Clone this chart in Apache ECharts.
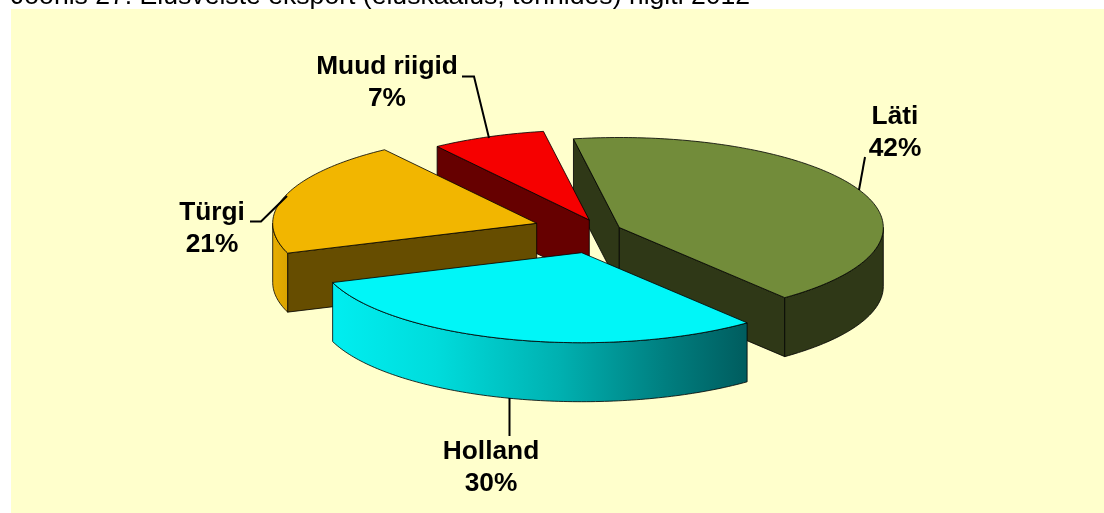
<!DOCTYPE html>
<html><head><meta charset="utf-8">
<style>html,body{margin:0;padding:0;background:#fff;overflow:hidden}#c{width:1104px;height:513px}</style>
<script src="https://cdn.jsdelivr.net/npm/echarts@6/dist/echarts.min.js"></script>
</head><body><div id="c"></div>
<script>
const titleText = 'Joonis 27. Elusveiste eksport (eluskaalus, tonnides) riigiti 2012';
const categories = ['Läti', 'Holland', 'Türgi', 'Muud riigid'];
const shares = [42, 30.4, 20.6, 7];   // labels show them rounded

// Layout and styling of the exploded, tilted pie (not data)
const startAngle = -10;           // degrees clockwise from the top of the ellipse
const radiusX = 264, radiusY = 90, depth = 59;
const pieCentre = [579, 236];
const explode = [[40.3, -8.5], [2.7, 16.7], [-42.3, -12.7], [10.3, -16]];
const layerOrder = [1, 4, 3, 2];
const topColours = ['#728c3a', '#00f6f8', '#f2b600', '#f60000'];
const faceColours = ['#2f3817', '#00f6f8', '#664d00', '#660000'];
const wallFills = [
  () => '#2f3817',
  () => new echarts.graphic.LinearGradient(0, 0, 1, 0, [
    {offset: 0, color: '#00eef0'}, {offset: 0.25, color: '#00dcdc'},
    {offset: 0.55, color: '#00b0b0'}, {offset: 0.8, color: '#007f80'}, {offset: 1, color: '#005c5e'}]),
  () => new echarts.graphic.LinearGradient(0, 0, 1, 0, [
    {offset: 0, color: '#e8ae00'}, {offset: 1, color: '#d9a300'}]),
  () => '#660000'
];
const labelCentres = [[895, 133], [491, 468], [212, 229], [387, 83]];
const leaders = [
  [[865, 157], [859, 190]],
  [[509.5, 398], [509.5, 436]],
  [[250, 221.5], [261, 221.5], [287, 196]],
  [[462, 76.5], [474, 76.5], [489, 138]]
];
const lineColour = 'rgba(0,0,0,0.8)';

const total = shares.reduce((a, b) => a + b, 0);
const rad = d => d * Math.PI / 180;
function rimPoint(apex, angle, drop) {
  return [apex[0] + radiusX * Math.sin(rad(angle)),
          apex[1] - radiusY * Math.cos(rad(angle)) + drop];
}
function arc(apex, from, to, drop) {
  const pts = [], n = Math.max(2, Math.ceil(Math.abs(to - from)));
  for (let i = 0; i <= n; i++) pts.push(rimPoint(apex, from + (to - from) * i / n, drop));
  return pts;
}
function face(a, b, fill, z) {
  return {type: 'polygon', z2: z, silent: true,
    shape: {points: [a, b, [b[0], b[1] + depth], [a[0], a[1] + depth]]},
    style: {fill, stroke: lineColour, lineWidth: 1}};
}

function renderSlice(params, api) {
  const i = params.dataIndex;
  const value = api.value(1);
  const before = shares.slice(0, i).reduce((a, b) => a + b, 0);
  const from = startAngle + before / total * 360;
  const to = from + value / total * 360;
  const apex = [pieCentre[0] + explode[i][0], pieCentre[1] + explode[i][1]];
  const base = layerOrder[i] * 10;
  const kids = [];

  // leader line and label
  kids.push({type: 'polyline', z2: base + 5, silent: true,
    shape: {points: leaders[i]}, style: {fill: 'none', stroke: '#000', lineWidth: 2}});
  kids.push({type: 'text', z2: 100, silent: true,
    style: {x: labelCentres[i][0], y: labelCentres[i][1],
      text: categories[i] + '\n' + Math.round(value) + '%',
      align: 'center', verticalAlign: 'middle', lineHeight: 32,
      font: 'bold 26.3px "Liberation Sans", Arial, sans-serif', fill: '#000'}});

  // cut faces that turn toward the viewer
  if (Math.sin(rad(from)) < 0) kids.push(face(rimPoint(apex, from, 0), apex, faceColours[i], base));
  if (Math.sin(rad(to)) > 0) kids.push(face(apex, rimPoint(apex, to, 0), faceColours[i], base));

  // outer wall: the part of the rim on the near side of the ellipse
  const wFrom = Math.max(from, 90), wTo = Math.min(to, 270);
  if (wTo > wFrom) {
    const up = arc(apex, wFrom, wTo, 0);
    const down = arc(apex, wFrom, wTo, depth).reverse();
    kids.push({type: 'polygon', z2: base + 1, silent: true,
      shape: {points: up.concat(down)},
      style: {fill: wallFills[i](), stroke: lineColour, lineWidth: 1}});
  }

  // top surface
  kids.push({type: 'polygon', z2: base + 2, silent: true,
    shape: {points: [apex].concat(arc(apex, from, to, 0))},
    style: {fill: topColours[i], stroke: lineColour, lineWidth: 1, lineJoin: 'round'}});

  return {type: 'group', children: kids};
}

const chart = echarts.init(document.getElementById('c'), null, {renderer: 'canvas'});
chart.setOption({
  animation: false,
  backgroundColor: '#ffffff',
  title: {text: titleText, left: 11, top: -17, padding: 0,
    textStyle: {fontFamily: '"Liberation Sans", Arial, sans-serif', fontSize: 26.6, fontWeight: 'normal', color: '#000'}},
  graphic: [{type: 'rect', z: 7, silent: true,
    shape: {x: 11, y: 9, width: 1093, height: 504}, style: {fill: '#ffffcc'}}],
  series: [{
    type: 'custom', coordinateSystem: 'none', clip: false, z: 8,
    data: categories.map((c, i) => [c, shares[i]]),
    encode: {itemName: 0, value: 1},
    renderItem: renderSlice
  }]
});
</script></body></html>
